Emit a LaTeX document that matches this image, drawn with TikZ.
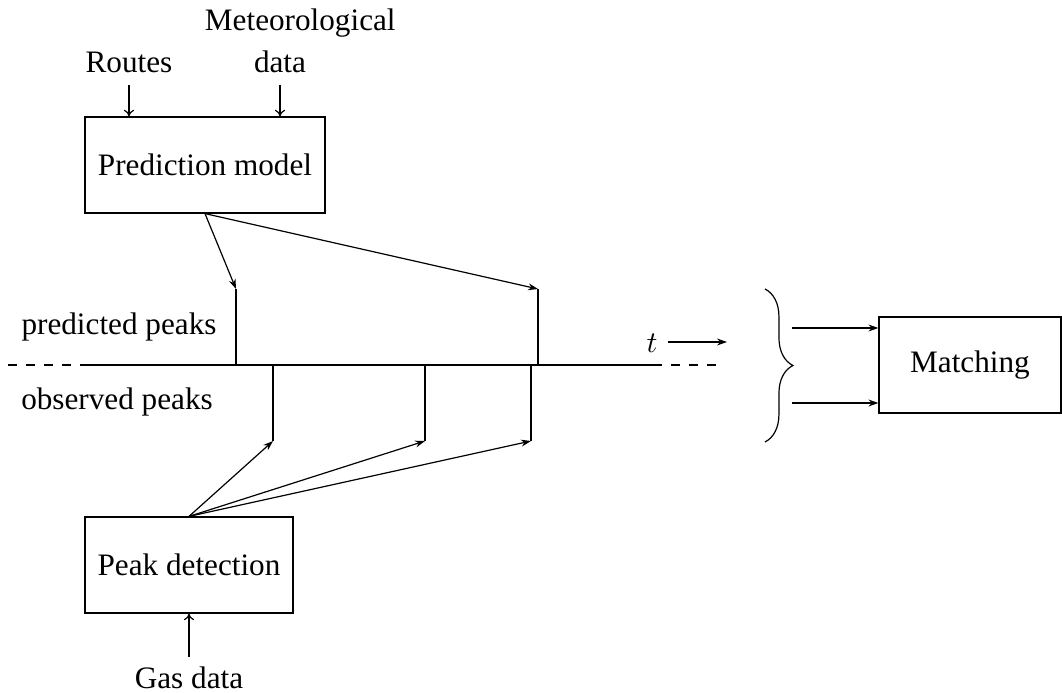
\documentclass[tikz,border=0pt]{standalone}
\usepackage{fontspec}
\setmainfont{Liberation Serif}
\usetikzlibrary{arrows.meta,decorations.pathreplacing}
\begin{document}
\begin{tikzpicture}[x=0.3333pt,y=-0.3333pt,
  font=\fontsize{10.4}{13.7}\selectfont, line width=0.4pt,
  box/.style={draw, inner sep=0pt, minimum height=32pt},
  lbl/.style={inner sep=0pt, anchor=base},
  fat/.style={-{Stealth[length=3.3pt,width=2.3pt]}},
  inarrow/.style={-{To[length=2.2pt,width=3.4pt]}}]
\useasboundingbox (0,0) rectangle (1062,693);
% boxes
\node[box, minimum width=80pt] (pm) at (205,165) {Prediction model};
\node[box, minimum width=69.33pt] (pd) at (189,565) {Peak detection};
\node[box, minimum width=60.67pt] (mt) at (970,365) {Matching};
% inputs
\node[lbl] (routes) at (129,73) {Routes};
\node[inner sep=0pt, anchor=south, text width=50pt, align=center] (met) at (280,73) {Meteorological\\data};
\node[lbl] (gas) at (189,688) {Gas data};
\coordinate (rs) at (129,85);
\coordinate (ms) at (280,85);
\coordinate (gs) at (189,657);
\draw[inarrow] (rs) -- (rs |- pm.north);
\draw[inarrow] (ms) -- (ms |- pm.north);
\draw[inarrow] (gs) -- (pd.south);
% time line
\coordinate (l0) at (8,365);
\coordinate (l1) at (83,365);
\coordinate (l2) at (653,365);
\coordinate (l3) at (723,365);
\draw[dashed] (l0) -- (l1);
\draw (l1) -- (l2);
\draw[dashed] (l2) -- (l3);
\node[lbl] (predl) at (119,335) {predicted peaks};
\node[lbl] (obsl) at (117,410) {observed peaks};
\node[lbl] (t) at (652,353) {$t$};
\coordinate (ta) at (668,342);
\coordinate (tb) at (727,342);
\draw[fat] (ta) -- (tb);
% predicted peaks
\coordinate (p1) at (236,289);
\coordinate (p2) at (538,289);
\draw (p1) -- (p1 |- l1);
\draw (p2) -- (p2 |- l1);
\draw[fat] (pm.south) -- (p1);
\draw[fat] (pm.south) -- (p2);
% observed peaks
\coordinate (o1) at (273,441);
\coordinate (o2) at (425,441);
\coordinate (o3) at (531,441);
\draw (o1) -- (o1 |- l1);
\draw (o2) -- (o2 |- l1);
\draw (o3) -- (o3 |- l1);
\draw[fat] (pd.north) -- (o1);
\draw[fat] (pd.north) -- (o2);
\draw[fat] (pd.north) -- (o3);
% brace and matching
\coordinate (b1) at (765,289);
\coordinate (b2) at (765,442);
\draw[decorate, decoration={brace, amplitude=9.3pt}] (b1) -- (b2);
\coordinate (m1) at (792,328);
\coordinate (m2) at (792,403);
\draw[fat] (m1) -- (m1 -| mt.west);
\draw[fat] (m2) -- (m2 -| mt.west);
\end{tikzpicture}
\end{document}
